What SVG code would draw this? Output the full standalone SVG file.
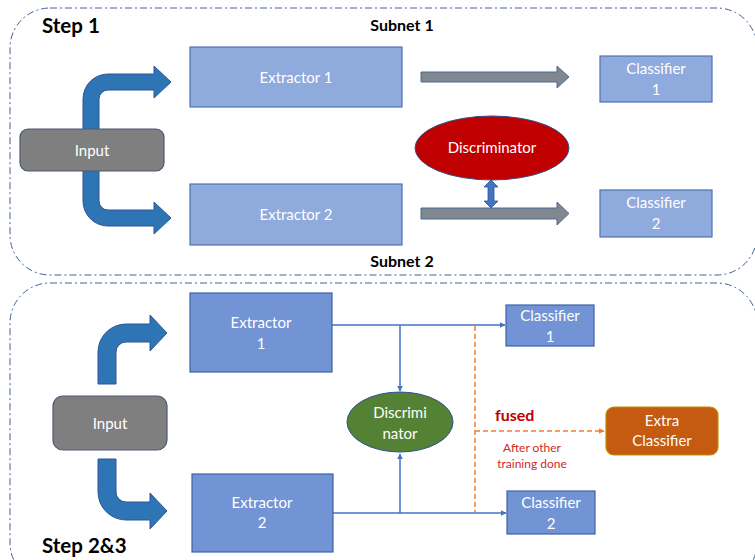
<svg xmlns="http://www.w3.org/2000/svg" width="755" height="560" viewBox="0 0 755 560">
<defs>
<style>
.cont{fill:none;stroke:#44609a;stroke-width:1;stroke-dasharray:7 3 2 3}
.t{font-family:Lato,"Liberation Sans",sans-serif;fill:#ffffff;text-anchor:middle;font-size:15px}
.b{font-family:Lato,"Liberation Sans",sans-serif;font-weight:bold;fill:#000000}
.ex1{fill:#8faadc;stroke:#4f72b5;stroke-width:1.2}
.ex2{fill:#7294d4;stroke:#3f62a8;stroke-width:1.2}
.inp{fill:#7f7f7f;stroke:#4a5a78;stroke-width:1.2}
.barrow{fill:#2e75b6;stroke:#2f5597;stroke-width:1}
.garrow{fill:#7f8791;stroke:#4f6a92;stroke-width:1}
.ln{fill:none;stroke:#4472c4;stroke-width:1.5}
.or{fill:none;stroke:#ed7d31;stroke-width:1.5;stroke-dasharray:5 3}
</style>
<marker id="ab" viewBox="0 0 10 10" refX="9" refY="5" markerWidth="4" markerHeight="4" orient="auto"><path d="M0,0 L10,5 L0,10 Z" fill="#4472c4"/></marker>
<marker id="ao" viewBox="0 0 10 10" refX="9" refY="5" markerWidth="4" markerHeight="4" orient="auto"><path d="M0,0 L10,5 L0,10 Z" fill="#ed7d31"/></marker>
</defs>
<rect width="755" height="560" fill="#ffffff"/>
<g id="step1-container">
<rect class="cont" x="10" y="8" width="747" height="267" rx="40"/>
<text class="b" x="42" y="33" font-size="20.5">Step 1</text>
<text class="b" x="402" y="31" font-size="16" text-anchor="middle">Subnet 1</text>
<text class="b" x="402" y="267" font-size="16" text-anchor="middle">Subnet 2</text>
</g>
<g id="step23-container">
<rect class="cont" x="10" y="283" width="747" height="300" rx="40"/>
<text class="b" x="42" y="553" font-size="20.5">Step 2&amp;3</text>
</g>
<g id="connectors">
<path class="barrow" d="M83,140 V99 A25,25 0 0 1 108,74 H154 V66 L171,82 L154,98 V90 H108 A9,9 0 0 0 99,99 V140 Z"/>
<path class="barrow" d="M83,160 V201 A25,25 0 0 0 108,226 H154 V234 L171,218 L154,202 V210 H108 A9,9 0 0 1 99,201 V160 Z"/>
<path class="garrow" d="M421,72 H557 V66 L569,77 L557,88 V82 H421 Z"/>
<path class="garrow" d="M421,208 H557 V202 L569,213.5 L557,225 V219 H421 Z"/>
<path d="M491,180 L498,187 H494 V201 H498 L491,208 L484,201 H488 V187 H484 Z" fill="#4472c4" stroke="#2f5597" stroke-width="0.8"/>
<path class="barrow" d="M98,384 V352 A28,28 0 0 1 126,324 H150 V315 L167,333 L150,351 V342 H126 A10,10 0 0 0 116,352 V384 Z"/>
<path class="barrow" d="M98,459 V492 A28,28 0 0 0 126,520 H150 V529 L167,511 L150,493 V502 H126 A10,10 0 0 1 116,492 V459 Z"/>
<line class="ln" x1="332" y1="325" x2="505" y2="325" marker-end="url(#ab)"/>
<line class="ln" x1="333" y1="513" x2="506" y2="513" marker-end="url(#ab)"/>
<line class="ln" x1="400" y1="325" x2="400" y2="391" marker-end="url(#ab)"/>
<line class="ln" x1="400" y1="513" x2="400" y2="454" marker-end="url(#ab)"/>
<line class="or" x1="475" y1="326" x2="475" y2="512"/>
<line class="or" x1="475" y1="431" x2="604" y2="431" marker-end="url(#ao)"/>
<text x="495" y="421" font-family="Lato,'Liberation Sans',sans-serif" font-weight="bold" font-size="16" fill="#c00000">fused</text>
<text x="532" y="452" font-family="Lato,'Liberation Sans',sans-serif" font-size="12" fill="#d02828" text-anchor="middle">After other</text>
<text x="532" y="468" font-family="Lato,'Liberation Sans',sans-serif" font-size="12" fill="#d02828" text-anchor="middle">training done</text>
</g>
<g id="input1"><rect class="inp" x="20" y="129" width="144" height="42" rx="8"/><text class="t" x="92" y="156">Input</text></g>
<g id="extractor1"><rect class="ex1" x="190" y="47" width="212" height="60"/><text class="t" x="296" y="83">Extractor 1</text></g>
<g id="extractor2"><rect class="ex1" x="190" y="184" width="212" height="61"/><text class="t" x="296" y="220">Extractor 2</text></g>
<g id="classifier1"><rect class="ex1" x="600" y="56" width="112" height="46"/><text class="t" x="656" y="74">Classifier</text><text class="t" x="656" y="95">1</text></g>
<g id="classifier2"><rect class="ex1" x="600" y="190" width="112" height="47"/><text class="t" x="656" y="208">Classifier</text><text class="t" x="656" y="229">2</text></g>
<g id="discriminator1"><ellipse cx="492" cy="148" rx="77" ry="32" fill="#c00000" stroke="#2f528f" stroke-width="1"/><text class="t" x="492" y="153">Discriminator</text></g>
<g id="input2"><rect class="inp" x="53" y="396" width="114" height="54" rx="10"/><text class="t" x="110" y="429">Input</text></g>
<g id="extractor2-1"><rect class="ex2" x="190" y="293" width="142" height="79"/><text class="t" x="261" y="328">Extractor</text><text class="t" x="261" y="349">1</text></g>
<g id="extractor2-2"><rect class="ex2" x="192" y="474" width="141" height="78"/><text class="t" x="262" y="508">Extractor</text><text class="t" x="262" y="528">2</text></g>
<g id="classifier2-1"><rect class="ex2" x="506" y="305" width="88" height="41"/><text class="t" x="550" y="321">Classifier</text><text class="t" x="550" y="342">1</text></g>
<g id="classifier2-2"><rect class="ex2" x="507" y="491" width="88" height="43"/><text class="t" x="551" y="508">Classifier</text><text class="t" x="551" y="529">2</text></g>
<g id="discriminator2"><ellipse cx="400" cy="422" rx="53" ry="30" fill="#548235" stroke="#2f528f" stroke-width="1"/><text class="t" x="400" y="418">Discrimi</text><text class="t" x="400" y="439">nator</text></g>
<g id="extra-classifier"><rect x="606" y="407" width="112" height="48" rx="8" fill="#c55a11" stroke="#bf9000" stroke-width="1.2"/><text class="t" x="662" y="426">Extra</text><text class="t" x="662" y="446">Classifier</text></g>
</svg>
